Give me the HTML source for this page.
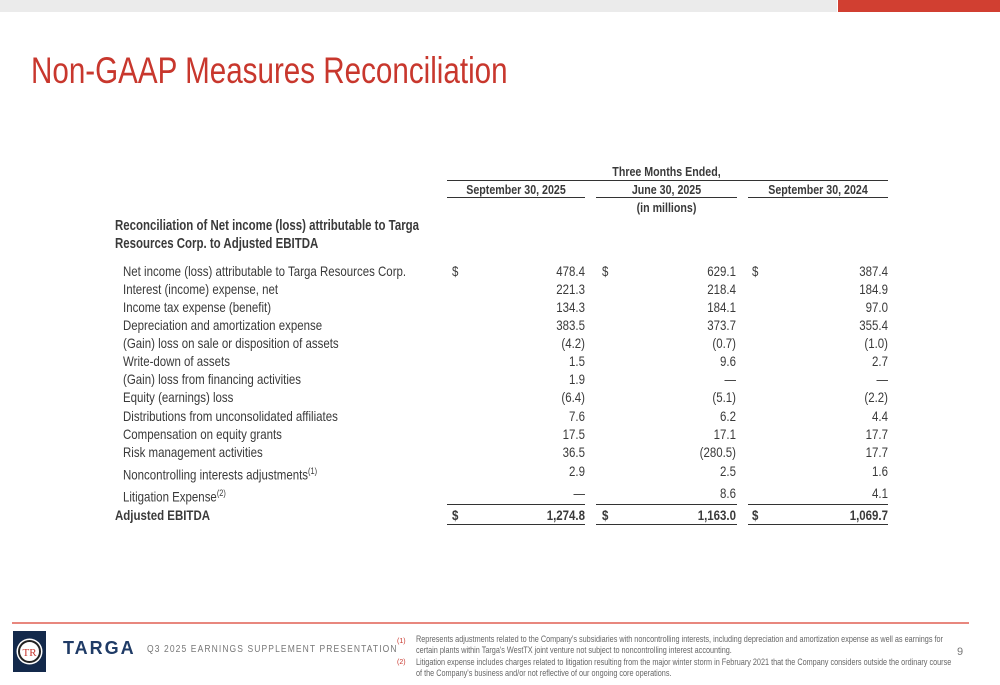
<!DOCTYPE html>
<html><head><meta charset="utf-8"><style>
*{margin:0;padding:0}
body{width:1000px;height:685px;position:relative;background:#fff;overflow:hidden;font-family:"Liberation Sans",sans-serif;color:#3a3a3a}
.a{position:absolute;white-space:nowrap}
.t{font-size:14px;line-height:18px}
.b{font-weight:bold}
.r{text-align:right}
.n{transform:scaleX(.82);transform-origin:left center}
.nr{transform:scaleX(.82);transform-origin:right center}
.nc{transform:scaleX(.82);transform-origin:center center}
.ln{position:absolute;height:0;border-top:1.5px solid #333}
.fn{position:absolute;white-space:nowrap;font-size:9.5px;line-height:11.5px;color:#666;transform:scaleX(.765);transform-origin:left center;left:416px}
</style></head><body>
<div class="a" style="left:0;top:0;width:837px;height:12px;background:#ebebeb"></div>
<div class="a" style="left:838px;top:0;width:162px;height:12px;background:#d13f31"></div>
<div class="a n" style="left:31px;top:50px;font-size:37px;color:#c8372d;transform:scaleX(.8)">Non-GAAP Measures Reconciliation</div>

<div class="a t b nc" style="left:566px;width:201px;top:163px;text-align:center;font-size:13px">Three Months Ended,</div>
<div class="ln" style="left:447px;width:441px;top:180px"></div>
<div class="a t b nc" style="left:437px;width:158px;top:181px;text-align:center;font-size:13px">September 30, 2025</div>
<div class="a t b nc" style="left:586px;width:161px;top:181px;text-align:center;font-size:13px">June 30, 2025</div>
<div class="a t b nc" style="left:738px;width:160px;top:181px;text-align:center;font-size:13px">September 30, 2024</div>
<div class="ln" style="left:447px;width:138px;top:197px"></div>
<div class="ln" style="left:596px;width:141px;top:197px"></div>
<div class="ln" style="left:748px;width:140px;top:197px"></div>
<div class="a t b nc" style="left:586px;width:161px;top:199px;text-align:center;font-size:13px">(in millions)</div>

<div class="a t b n" style="left:115px;top:217px;font-size:14.5px;transform:scaleX(.79)">Reconciliation of Net income (loss) attributable to Targa</div>
<div class="a t b n" style="left:115px;top:235px;font-size:14.5px;transform:scaleX(.79)">Resources Corp. to Adjusted EBITDA</div>

<div id="rows"></div>
<script>
var rows=[
["Net income (loss) attributable to Targa Resources Corp.","478.4","629.1","387.4",262,1],
["Interest (income) expense, net","221.3","218.4","184.9",280],
["Income tax expense (benefit)","134.3","184.1","97.0",298],
["Depreciation and amortization expense","383.5","373.7","355.4",316],
["(Gain) loss on sale or disposition of assets","(4.2)","(0.7)","(1.0)",334],
["Write-down of assets","1.5","9.6","2.7",352],
["(Gain) loss from financing activities","1.9","—","—",370],
["Equity (earnings) loss","(6.4)","(5.1)","(2.2)",388],
["Distributions from unconsolidated affiliates","7.6","6.2","4.4",407],
["Compensation on equity grants","17.5","17.1","17.7",425],
["Risk management activities","36.5","(280.5)","17.7",443],
["Noncontrolling interests adjustments<sup style='font-size:9px'>(1)</sup>","2.9","2.5","1.6",462],
["Litigation Expense<sup style='font-size:9px'>(2)</sup>","—","8.6","4.1",484]
];
var h="",cx=[[452,585],[602,736],[752,888]];
rows.forEach(function(r){
h+='<div class="a t n" style="left:123px;top:'+r[4]+'px">'+r[0]+'</div>';
for(var i=0;i<3;i++){
h+='<div class="a t r nr" style="left:'+(cx[i][1]-80)+'px;width:80px;top:'+r[4]+'px">'+r[i+1]+'</div>';
if(r[5])h+='<div class="a t n" style="left:'+cx[i][0]+'px;top:'+r[4]+'px">$</div>';
}});
var y=506;
h+='<div class="a t b n" style="left:115px;top:'+y+'px">Adjusted EBITDA</div>';
var tv=["1,274.8","1,163.0","1,069.7"],ul=[[447,138],[596,141],[748,140]];
for(var i=0;i<3;i++){
h+='<div class="a t b r nr" style="left:'+(cx[i][1]-80)+'px;width:80px;top:'+y+'px">'+tv[i]+'</div>';
h+='<div class="a t b n" style="left:'+cx[i][0]+'px;top:'+y+'px">$</div>';
h+='<div class="ln" style="left:'+ul[i][0]+'px;width:'+ul[i][1]+'px;top:504px;border-top-width:1px"></div>';
h+='<div class="ln" style="left:'+ul[i][0]+'px;width:'+ul[i][1]+'px;top:524px"></div>';
}
document.getElementById("rows").innerHTML=h;
</script>

<div class="a" style="left:12px;top:622px;width:957px;height:2px;background:#e8877e"></div>
<svg class="a" style="left:13px;top:631px" width="33" height="41" viewBox="0 0 33 41">
<rect width="33" height="41" fill="#13294b"/>
<circle cx="16.5" cy="20.5" r="13" fill="#fff"/>
<circle cx="16.5" cy="20.5" r="10.5" fill="none" stroke="#222" stroke-width="2"/>
<text x="16.5" y="25" font-size="11" text-anchor="middle" fill="#c8372d" font-family="Liberation Serif">TR</text>
</svg>
<div class="a b" style="left:63px;top:638px;font-size:18px;color:#1f3b66;letter-spacing:2px">TARGA</div>
<div class="a n" style="left:147px;top:644px;font-size:10px;color:#777;letter-spacing:1.3px;transform:scaleX(.85)">Q3 2025 EARNINGS SUPPLEMENT PRESENTATION</div>
<div class="a" style="left:397px;top:638px;font-size:7px;color:#c8372d">(1)</div>
<div class="a" style="left:397px;top:659px;font-size:7px;color:#c8372d">(2)</div>
<div class="fn" style="top:634px">Represents adjustments related to the Company's subsidiaries with noncontrolling interests, including depreciation and amortization expense as well as earnings for</div>
<div class="fn" style="top:645px">certain plants within Targa's WestTX joint venture not subject to noncontrolling interest accounting.</div>
<div class="fn" style="top:657px">Litigation expense includes charges related to litigation resulting from the major winter storm in February 2021 that the Company considers outside the ordinary course</div>
<div class="fn" style="top:668px">of the Company's business and/or not reflective of our ongoing core operations.</div>
<div class="a" style="left:957px;top:646px;font-size:11px;color:#777">9</div>
</body></html>
